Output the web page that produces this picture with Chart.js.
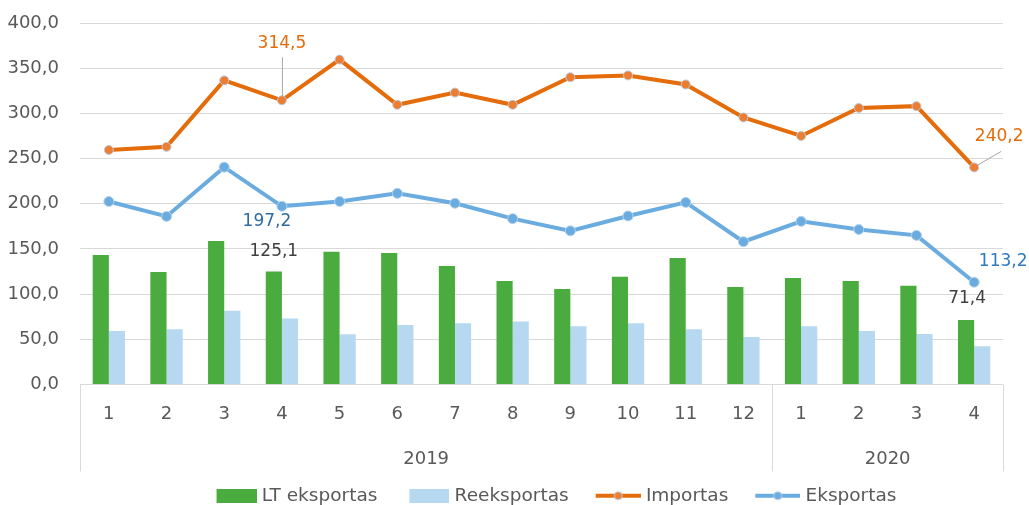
<!DOCTYPE html>
<html>
<head>
<meta charset="utf-8">
<script src="https://cdn.jsdelivr.net/npm/chart.js@4.4.1/dist/chart.umd.min.js"></script>
<style>
  html, body { margin: 0; padding: 0; background: #fff; }
  #wrap { width: 1029px; height: 505px; }
</style>
</head>
<body>
<div id="wrap"><canvas id="myChart"></canvas></div>
<script>
/* global Chart */

// data
const months = ['1', '2', '3', '4', '5', '6', '7', '8', '9', '10', '11', '12', '1', '2', '3', '4'];
const yearLabels = ['2019', '2020'];
const yearSpans = [12, 4]; // months in each year group

const ltEksportas = [143.3, 124.4, 158.9, 125.1, 147.0, 145.6, 131.1, 114.4, 105.6, 119.3, 140.0, 107.8, 117.8, 114.4, 109.2, 71.4];
const reeksportas = [59.3, 61.1, 81.5, 73.0, 55.6, 65.9, 67.8, 69.6, 64.4, 67.8, 61.1, 52.6, 64.4, 59.3, 56.0, 42.2];
const importas = [259.5, 263.0, 336.5, 314.5, 359.5, 309.5, 323.0, 309.5, 340.0, 342.0, 332.0, 295.5, 275.0, 306.0, 308.0, 240.2];
const eksportas = [202.5, 186.0, 240.5, 197.2, 202.5, 211.5, 200.5, 183.5, 170.0, 186.5, 201.5, 158.0, 180.5, 171.5, 165.0, 113.2];

// which values get a label: [dataset index, point index]
const labelled = [[2, 3], [2, 15], [3, 3], [0, 3], [3, 15], [0, 15]];

const fmt = v => v.toFixed(1).replace('.', ',');

Chart.defaults.font.family = "'DejaVu Sans', sans-serif";
Chart.defaults.font.size = 18;
Chart.defaults.color = '#595959';

// legend markers (drawn a bit wider than pointStyleWidth so they sit close to the text)
const LEG_W = 66;
function barMarker(color) {
  const c = document.createElement('canvas');
  c.width = LEG_W + 8; c.height = 14;
  const g = c.getContext('2d');
  g.fillStyle = color;
  g.fillRect(c.width - 40, 0, 40, 14);
  return c;
}
function lineMarker(color, dot) {
  const c = document.createElement('canvas');
  c.width = LEG_W + 8; c.height = 14;
  const g = c.getContext('2d');
  g.strokeStyle = color;
  g.lineWidth = 4;
  g.beginPath(); g.moveTo(c.width - 45, 7); g.lineTo(c.width, 7); g.stroke();
  g.fillStyle = dot;
  g.strokeStyle = '#b8cbe0';
  g.lineWidth = 1;
  g.beginPath(); g.arc(c.width - 22.5, 7, 4, 0, Math.PI * 2); g.fill(); g.stroke();
  return c;
}

// year row under the month labels
const yearAxis = {
  id: 'yearAxis',
  afterDraw(chart) {
    const ctx = chart.ctx;
    const x = chart.scales.x;
    const top = chart.chartArea.bottom;
    const step = x.getPixelForValue(1) - x.getPixelForValue(0);
    ctx.save();
    ctx.strokeStyle = '#d9d9d9';
    ctx.lineWidth = 1;
    ctx.fillStyle = '#595959';
    ctx.font = "18px 'DejaVu Sans', sans-serif";
    ctx.textAlign = 'center';
    ctx.textBaseline = 'middle';
    let idx = 0;
    const edges = [x.getPixelForValue(0) - step / 2];
    yearLabels.forEach(function(lbl, i) {
      const a = x.getPixelForValue(idx) - step / 2;
      const b = x.getPixelForValue(idx + yearSpans[i] - 1) + step / 2;
      edges.push(b);
      ctx.fillText(lbl, (a + b) / 2, top + 75);
      idx += yearSpans[i];
    });
    edges.forEach(function(px) {
      px = Math.round(px) + 0.5;
      ctx.beginPath(); ctx.moveTo(px, top); ctx.lineTo(px, top + 87); ctx.stroke();
    });
    ctx.restore();
  }
};

// a few value labels, as in the original
const valueLabels = {
  id: 'valueLabels',
  afterDatasetsDraw(chart) {
    const ctx = chart.ctx;
    const spots = {
      '2-3': { dx: 0, dy: -57, color: '#e46c0a', lead: true },
      '2-15': { dx: 25, dy: -31, color: '#e46c0a', lead: true },
      '3-3': { dx: -15, dy: 15, color: '#2e6ca4' },
      '0-3': { dx: 0, dy: -20, color: '#404040' },
      '3-15': { dx: 29, dy: -21, color: '#2e7bc0' },
      '0-15': { dx: 1, dy: -21, color: '#404040' }
    };
    ctx.save();
    ctx.font = "17px 'DejaVu Sans', sans-serif";
    ctx.textAlign = 'center';
    ctx.textBaseline = 'middle';
    labelled.forEach(function(p) {
      const el = chart.getDatasetMeta(p[0]).data[p[1]];
      const s = spots[p[0] + '-' + p[1]];
      const tx = el.x + s.dx, ty = el.y + s.dy;
      if (s.lead) {
        ctx.strokeStyle = '#a6a6a6';
        ctx.lineWidth = 1;
        ctx.beginPath();
        if (s.dx === 0) {
          ctx.moveTo(el.x + 0.5, el.y - 4); ctx.lineTo(el.x + 0.5, ty + 14);
        } else {
          ctx.moveTo(el.x + 3, el.y - 2); ctx.lineTo(tx + 2, ty + 15);
        }
        ctx.stroke();
      }
      ctx.fillStyle = s.color;
      ctx.fillText(fmt(chart.data.datasets[p[0]].data[p[1]]), tx, ty);
    });
    ctx.restore();
  }
};

const ctx = document.getElementById('myChart').getContext('2d');

// eslint-disable-next-line no-unused-vars
const chart = new Chart(ctx, {
  type: 'bar',
  data: {
    labels: months,
    datasets: [{
      label: 'LT eksportas',
      data: ltEksportas,
      backgroundColor: '#4aab3e',
      categoryPercentage: 0.56,
      barPercentage: 1.0,
      order: 2,
      legendMarker: barMarker('#4aab3e'),
    },
    {
      label: 'Reeksportas',
      data: reeksportas,
      backgroundColor: '#b6d8f0',
      categoryPercentage: 0.56,
      barPercentage: 1.0,
      order: 2,
      legendMarker: barMarker('#b6d8f0'),
    },
    {
      type: 'line',
      label: 'Importas',
      data: importas,
      borderColor: '#e46c0a',
      borderWidth: 4,
      pointRadius: 4.5,
      pointBackgroundColor: '#ed7d31',
      pointBorderColor: '#b8cbe0',
      pointBorderWidth: 1,
      order: 1,
      legendMarker: lineMarker('#e46c0a', '#ed7d31'),
    },
    {
      type: 'line',
      label: 'Eksportas',
      data: eksportas,
      borderColor: '#6aace0',
      borderWidth: 4,
      pointRadius: 5,
      pointBackgroundColor: '#6aace0',
      pointBorderColor: '#b8d2ea',
      pointBorderWidth: 1,
      order: 1,
      legendMarker: lineMarker('#6aace0', '#6aace0'),
    }]
  },
  options: {
    responsive: true,
    maintainAspectRatio: false,
    animation: false,
    layout: { padding: { top: 23, right: 26, bottom: -10, left: 0 } },
    plugins: {
      tooltip: { enabled: false },
      legend: {
        position: 'bottom',
        fullSize: false,
        labels: {
          usePointStyle: true,
          pointStyleWidth: LEG_W,
          padding: 2,
          color: '#595959',
          font: { size: 18.5 },
          generateLabels: function(chart) {
            return chart.data.datasets.map(function(ds, i) {
              return {
                text: ds.label,
                pointStyle: ds.legendMarker,
                fillStyle: 'transparent',
                strokeStyle: 'transparent',
                lineWidth: 0,
                fontColor: '#595959',
                datasetIndex: i,
                hidden: false
              };
            });
          }
        }
      }
    },
    scales: {
      x: {
        grid: { display: false },
        border: { display: false },
        ticks: { autoSkip: false, maxRotation: 0, padding: 11, color: '#595959' },
        afterFit: function(scale) { scale.height = 100; }
      },
      y: {
        min: 0,
        max: 400,
        grid: { color: '#d9d9d9', drawTicks: false },
        border: { display: false },
        ticks: { stepSize: 50, padding: 21, color: '#595959', callback: v => fmt(v) },
        afterFit: function(scale) {
          scale.width = 80;
          scale.paddingTop = 0;
          scale.paddingBottom = 0;
        }
      }
    }
  },
  plugins: [yearAxis, valueLabels]
});
</script>
</body>
</html>
